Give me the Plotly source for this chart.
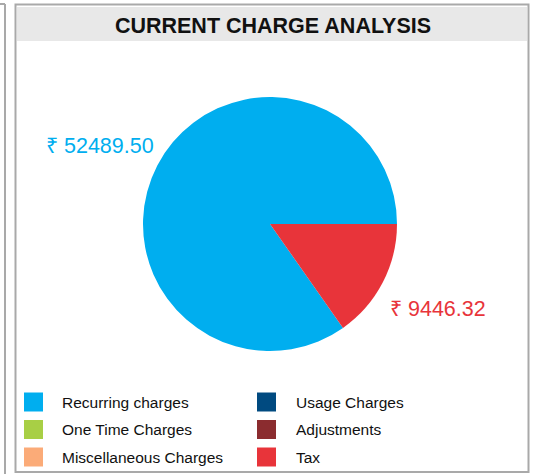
import plotly.graph_objects as go

# ---- data ----
labels = ["Recurring charges", "Usage Charges", "One Time Charges",
          "Adjustments", "Miscellaneous Charges", "Tax"]
values = [52489.50, 0, 0, 0, 0, 9446.32]
colors = ["#00AEEF", "#004A80", "#A8CF45", "#8B2C2F", "#FBAB78", "#E8343A"]
title_text = "CURRENT CHARGE ANALYSIS"
currency = "₹"

W, H = 538, 474
FONT = "Arial, Liberation Sans, sans-serif"

def px_x(x):
    return x / W

def px_y(y):
    return 1 - y / H

# last slice (Tax) begins at 3 o'clock, running clockwise
total = sum(values)
rotation = 90 + 360 * values[-1] / total

fig = go.Figure()
fig.add_trace(go.Pie(
    labels=labels,
    values=values,
    sort=False,
    direction="clockwise",
    rotation=rotation,
    marker=dict(colors=colors, line=dict(width=0)),
    textinfo="none",
    hoverinfo="label+value",
    showlegend=False,
    domain=dict(x=[px_x(143), px_x(397)], y=[px_y(351), px_y(97)]),
))

shapes = [
    # neighbouring panel edge on the far left
    dict(type="line", xref="paper", yref="paper", x0=px_x(5), x1=px_x(5), y0=0, y1=px_y(4),
         line=dict(color="#a9a9a9", width=2)),
    dict(type="line", xref="paper", yref="paper", x0=0, x1=px_x(5), y0=px_y(4), y1=px_y(4),
         line=dict(color="#a9a9a9", width=2)),
    # title bar
    dict(type="rect", xref="paper", yref="paper", x0=px_x(17), x1=px_x(527), y0=px_y(41), y1=px_y(7),
         fillcolor="#e8e8e8", line=dict(width=0), layer="below"),
    # panel border
    dict(type="rect", xref="paper", yref="paper", x0=px_x(15.5), x1=px_x(528.5), y0=px_y(472), y1=px_y(4.5),
         line=dict(color="#a9a9a9", width=2), fillcolor="rgba(0,0,0,0)"),
]

annotations = []

# data labels for non-zero slices (label placement: first slice left-upper, last slice right-lower)
label_places = {0: dict(x=156, y=146, xanchor="right"),
                len(values) - 1: dict(x=388, y=309, xanchor="left")}
for i, v in enumerate(values):
    if v > 0 and i in label_places:
        p = label_places[i]
        annotations.append(dict(text=f"{currency} {v:.2f}", xref="paper", yref="paper",
                                x=px_x(p["x"]), y=px_y(p["y"]), xanchor=p["xanchor"], yanchor="middle",
                                showarrow=False,
                                font=dict(family=FONT, size=21.5, color=colors[i])))

# legend: two columns, row-wise order
row_centers_start, row_step = 402, 27.5
col_step = 233
for i, (lab, col) in enumerate(zip(labels, colors)):
    r, c = divmod(i, 2)
    cy = row_centers_start + r * row_step
    sx = 24 + c * col_step
    shapes.append(dict(type="rect", xref="paper", yref="paper",
                       x0=px_x(sx), x1=px_x(sx + 19), y0=px_y(cy + 9.5), y1=px_y(cy - 9.5),
                       fillcolor=col, line=dict(width=0)))
    annotations.append(dict(text=lab, xref="paper", yref="paper",
                            x=px_x(60 + c * 234), y=px_y(cy), xanchor="left", yanchor="middle",
                            showarrow=False,
                            font=dict(family=FONT, size=15.5, color="#111111")))

fig.update_layout(
    width=W, height=H, autosize=False,
    margin=dict(l=0, r=0, t=0, b=0),
    paper_bgcolor="white", plot_bgcolor="white",
    font=dict(family=FONT, color="#111111"),
    title=dict(text=f"<b>{title_text}</b>", x=px_x(273), y=px_y(25),
               xanchor="center", yanchor="middle", xref="paper", yref="paper",
               font=dict(size=21.5, color="#111111", family=FONT)),
    shapes=shapes,
    annotations=annotations,
    showlegend=False,
)

fig.write_html("out.html", config={"displayModeBar": False},
               post_script="document.body.style.margin='0';document.body.style.overflow='hidden';")
